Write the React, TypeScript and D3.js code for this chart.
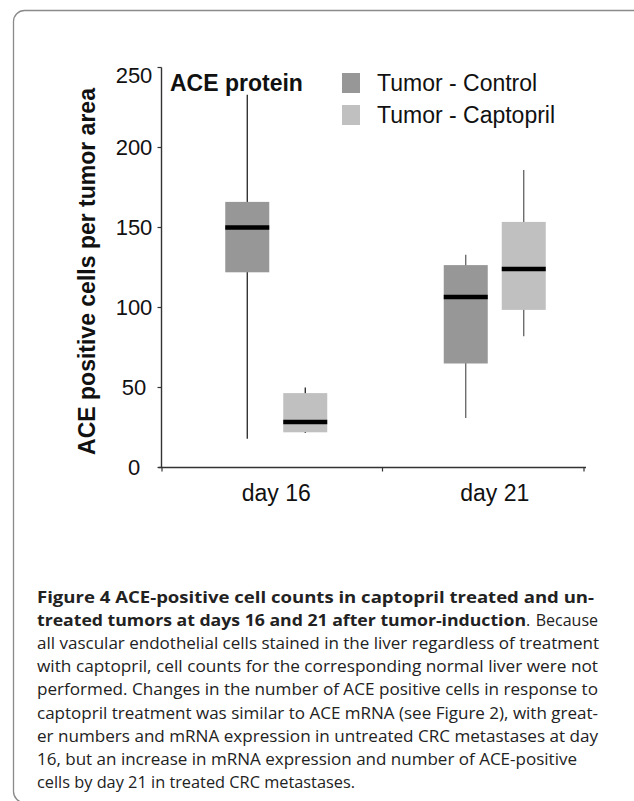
import React from "react";
import * as d3 from "d3";

// ---- data ----
const groups = ["day 16", "day 21"];
const series = ["Tumor - Control", "Tumor - Captopril"];
const seriesColors = ["#979797", "#c0c0c0"];

// box statistics per group (day 16, day 21)
const controlMin = [18, 31];
const controlQ1 = [122, 65];
const controlMedian = [150, 106.5];
const controlQ3 = [166, 126.5];
const controlMax = [233, 133];

const captoprilMin = [21.5, 82];
const captoprilQ1 = [22, 98.5];
const captoprilMedian = [28.5, 124];
const captoprilQ3 = [46.5, 153.5];
const captoprilMax = [50, 186];

const yTicks = [0, 50, 100, 150, 200, 250];
const yLabel = "ACE positive cells per tumor area";
const panelTitle = "ACE protein";

type Part = { t: string; bold: boolean; end?: number; anchorEnd?: number };
const captionLines: { parts: Part[] }[] = [
  { parts: [{ t: "Figure 4 ACE-positive cell counts in captopril treated and un-", bold: true, end: 594 }] },
  {
    parts: [
      { t: "treated tumors at days 16 and 21 after tumor-induction", bold: true, end: 526 },
      { t: ".", bold: false },
      { t: "Because", bold: false, anchorEnd: 598 },
    ],
  },
  { parts: [{ t: "all vascular endothelial cells stained in the liver regardless of treatment", bold: false, end: 599 }] },
  { parts: [{ t: "with captopril, cell counts for the corresponding normal liver were not", bold: false, end: 598 }] },
  { parts: [{ t: "performed. Changes in the number of ACE positive cells in response to", bold: false, end: 598 }] },
  { parts: [{ t: "captopril treatment was similar to ACE mRNA (see Figure 2), with great-", bold: false, end: 598 }] },
  { parts: [{ t: "er numbers and mRNA expression in untreated CRC metastases at day", bold: false, end: 598 }] },
  { parts: [{ t: "16, but an increase in mRNA expression and number of ACE-positive", bold: false, end: 577 }] },
  { parts: [{ t: "cells by day 21 in treated CRC metastases.", bold: false, end: 355 }] },
];

const W = 634;
const H = 801;

export default function App() {
  const y = d3.scaleLinear().domain([0, 250]).range([467.5, 67.5]);
  const x = d3.scaleBand<string>().domain(groups).range([167, 604]).padding(0);
  const sx = d3.scalePoint<string>().domain(series).range([-29, 29]);
  const boxW = 44;
  const axisLeft = 161.5;
  const axisRight = 586;

  const stats = [
    { min: controlMin, q1: controlQ1, med: controlMedian, q3: controlQ3, max: controlMax },
    { min: captoprilMin, q1: captoprilQ1, med: captoprilMedian, q3: captoprilQ3, max: captoprilMax },
  ];

  const groupCenters = groups.map((g) => (x(g) as number) + x.bandwidth() / 2);
  const xTickPos = [axisLeft + 0.5, (groupCenters[0] + groupCenters[1]) / 2 - 3, axisRight - 2];

  const chartFont = "'Liberation Sans', Arial, Helvetica, sans-serif";
  const capFont = "'Open Sans', 'Noto Sans', sans-serif";
  const capLeft = 37;
  const capBase0 = 603;
  const capStep = 23.1;

  return (
    <svg
      width={W}
      height={H}
      style={{ position: "absolute", left: 0, top: 0, background: "#fff" }}
      fontFamily={chartFont}
    >
      <rect x={0} y={0} width={W} height={H} fill="#fff" />
      {/* frame */}
      <rect x={13.5} y={10.5} width={640} height={792} rx={11} fill="none" stroke="#8a8a8a" strokeWidth={1.3} />

      {/* y axis */}
      <line x1={axisLeft} x2={axisLeft} y1={y(250)} y2={y(0)} stroke="#333" strokeWidth={1.4} />
      {yTicks.map((t) => (
        <g key={t}>
          <line x1={axisLeft - 4} x2={axisLeft} y1={y(t)} y2={y(t)} stroke="#333" strokeWidth={1.2} />
          <text
            x={134}
            y={Math.max(y(t), 75)}
            textAnchor="middle"
            dominantBaseline="central"
            fontSize={22}
            fill="#111"
          >
            {t}
          </text>
        </g>
      ))}

      {/* x axis */}
      <line x1={axisLeft - 3} x2={axisRight} y1={y(0)} y2={y(0)} stroke="#333" strokeWidth={1.4} />
      {xTickPos.map((p, i) => (
        <line key={i} x1={p} x2={p} y1={y(0)} y2={y(0) + 4} stroke="#333" strokeWidth={1.2} />
      ))}
      {groups.map((g, i) => (
        <text key={g} x={groupCenters[i]} y={y(0) + 33} textAnchor="middle" fontSize={23} fill="#111">
          {g}
        </text>
      ))}

      {/* y label */}
      <text
        transform={`translate(95,${(y(0) + y(250)) / 2 + 4}) rotate(-90)`}
        textAnchor="middle"
        fontSize={23}
        fontWeight="bold"
        fill="#111"
      >
        {yLabel}
      </text>

      {/* boxes */}
      {series.map((s, si) =>
        groups.map((g, gi) => {
          const cx = groupCenters[gi] + (sx(s) as number);
          const st = stats[si];
          const whiskerColor = gi === 0 ? "#111" : "#555";
          return (
            <g key={s + g}>
              <line x1={cx} x2={cx} y1={y(st.max[gi])} y2={y(st.min[gi])} stroke={whiskerColor} strokeWidth={1.2} />
              <rect
                x={cx - boxW / 2}
                y={y(st.q3[gi])}
                width={boxW}
                height={y(st.q1[gi]) - y(st.q3[gi])}
                fill={seriesColors[si]}
              />
              <line
                x1={cx - boxW / 2}
                x2={cx + boxW / 2}
                y1={y(st.med[gi])}
                y2={y(st.med[gi])}
                stroke="#000"
                strokeWidth={4.5}
              />
            </g>
          );
        })
      )}

      {/* title */}
      <text x={170} y={91} fontSize={23} fontWeight="bold" fill="#111">
        {panelTitle}
      </text>

      {/* legend */}
      {series.map((s, i) => (
        <g key={s} transform={`translate(342,${73 + i * 32})`}>
          <rect x={0} y={0} width={18} height={20} fill={seriesColors[i]} />
          <text x={35} y={10} dominantBaseline="central" fontSize={23} fill="#111">
            {s}
          </text>
        </g>
      ))}

      {/* caption */}
      {captionLines.map((line, li) => {
        let start = capLeft;
        return (
          <g key={li}>
            {line.parts.map((p, pi) => {
              const x0 = start;
              const yy = capBase0 + li * capStep;
              const common = {
                fontFamily: capFont,
                fontSize: 16,
                fontWeight: p.bold ? "bold" : "normal",
                fill: "#222",
              } as const;
              if (p.anchorEnd !== undefined) {
                return (
                  <text key={pi} x={p.anchorEnd} y={yy} textAnchor="end" {...common}>
                    {p.t}
                  </text>
                );
              }
              if (p.end === undefined) {
                return (
                  <text key={pi} x={x0} y={yy} {...common}>
                    {p.t}
                  </text>
                );
              }
              start = p.end;
              return (
                <text
                  key={pi}
                  x={x0}
                  y={yy}
                  {...common}
                  textLength={p.end - x0}
                  lengthAdjust="spacingAndGlyphs"
                >
                  {p.t}
                </text>
              );
            })}
          </g>
        );
      })}
    </svg>
  );
}
